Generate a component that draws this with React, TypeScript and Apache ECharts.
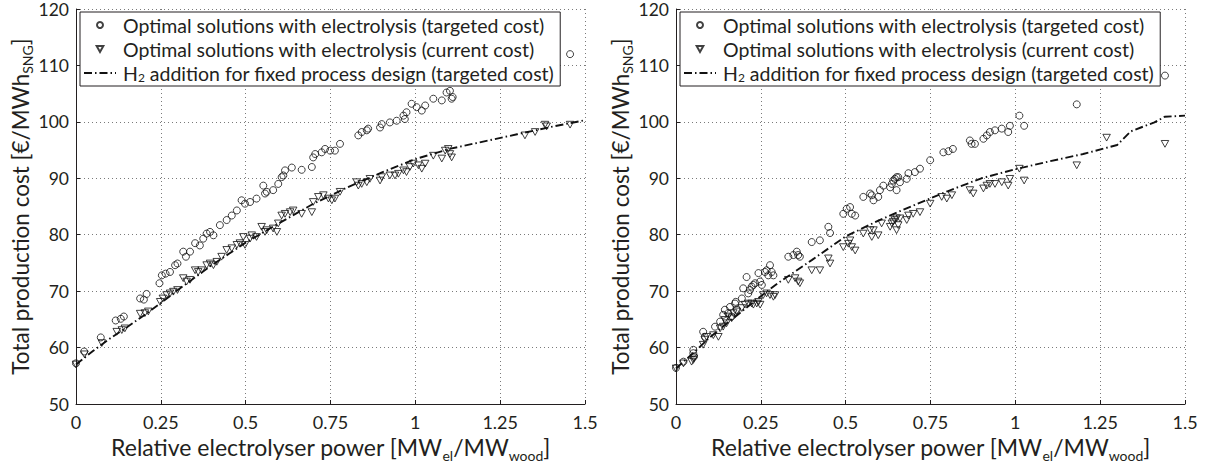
import React, { useEffect, useRef } from 'react';
import * as echarts from 'echarts';

const FONT = 'Lato';
const INK = '#231f20';

const xMin = 0;
const xMax = 1.5;
const xStep = 0.25;
const yMin = 50;
const yMax = 120;
const yStep = 10;

const seriesNames = [
  'Optimal solutions with electrolysis (targeted cost)',
  'Optimal solutions with electrolysis (current cost)',
  'H2 addition for fixed process design (targeted cost)',
];

// Left panel
const leftTargeted: [number, number][] = [
  [0, 57.2], [0.024, 59.3], [0.073, 61.8], [0.117, 64.8], [0.132, 65.1], [0.141, 65.5],
  [0.189, 68.7], [0.2, 68.5], [0.208, 69.5], [0.246, 71.4], [0.253, 72.8], [0.264, 73.1],
  [0.277, 73.4], [0.292, 74.6], [0.299, 74.9], [0.316, 77], [0.324, 76.1], [0.336, 77],
  [0.351, 78.5], [0.365, 78.1], [0.375, 79.3], [0.385, 80.2], [0.395, 80.5], [0.405, 79.9],
  [0.424, 81.7], [0.444, 82.6], [0.459, 83.4], [0.474, 84.3], [0.488, 86.1], [0.498, 85.5],
  [0.513, 85.8], [0.532, 86.4], [0.552, 88.7], [0.557, 87.3], [0.562, 87.6], [0.581, 87.9],
  [0.596, 89], [0.606, 90.2], [0.611, 90.5], [0.616, 91.4], [0.636, 91.9], [0.665, 91.5],
  [0.695, 92.0], [0.699, 93.7], [0.705, 94.3], [0.724, 94.6], [0.734, 95.2], [0.749, 94.9],
  [0.763, 94.9], [0.778, 96.1], [0.832, 97.6], [0.842, 98.2], [0.857, 98.5], [0.861, 98.8],
  [0.896, 99.0], [0.901, 99.6], [0.925, 99.9], [0.945, 100.2], [0.965, 101.1], [0.974, 101.7],
  [0.969, 100.5], [0.989, 103.2], [1.004, 102.6], [1.019, 102.0], [1.029, 102.9], [1.053, 104.1],
  [1.078, 103.8], [1.092, 105.2], [1.102, 105.5], [1.107, 104.1], [1.11, 104.4], [1.456, 112.0],
];

const leftCurrent: [number, number][] = [
  [0, 57], [0.025, 58.8], [0.076, 60.8], [0.12, 62.8], [0.135, 63.1], [0.144, 63.4],
  [0.189, 66.0], [0.203, 66.1], [0.213, 66.4], [0.248, 68.1], [0.256, 68.7], [0.267, 69.3],
  [0.277, 69.6], [0.287, 69.9], [0.299, 70.2], [0.316, 72.3], [0.326, 71.7], [0.336, 72.0],
  [0.351, 73.7], [0.36, 73.4], [0.37, 73.7], [0.385, 74.6], [0.395, 74.9], [0.405, 74.6],
  [0.415, 75.2], [0.429, 76.1], [0.444, 77.3], [0.459, 77.6], [0.474, 78.2], [0.483, 78.5],
  [0.493, 79.6], [0.498, 78.2], [0.513, 79.3], [0.518, 79.9], [0.532, 79.6], [0.547, 81.4],
  [0.557, 80.5], [0.562, 80.8], [0.581, 81.1], [0.592, 80.5], [0.596, 82.0], [0.606, 83.4],
  [0.616, 83.7], [0.631, 84.0], [0.64, 84.3], [0.665, 83.7], [0.695, 84.0], [0.699, 85.8],
  [0.714, 86.7], [0.729, 87.0], [0.744, 86.4], [0.754, 86.1], [0.763, 86.4], [0.778, 87.6],
  [0.827, 89.3], [0.832, 88.7], [0.842, 89.0], [0.857, 89.3], [0.866, 89.9], [0.896, 89.6],
  [0.901, 90.2], [0.925, 90.5], [0.94, 90.5], [0.95, 90.8], [0.965, 91.4], [0.974, 91.1],
  [0.984, 92.0], [0.994, 92.6], [1.009, 92.3], [1.019, 91.7], [1.029, 92.6], [1.053, 94.0],
  [1.078, 93.5], [1.088, 94.9], [1.097, 95.2], [1.102, 94.3], [1.107, 93.7], [1.323, 97.6],
  [1.353, 98.2], [1.382, 99.5], [1.387, 99.2], [1.456, 99.5],
];

const leftFixed: [number, number][] = [
  [0, 57], [0.05, 59.4], [0.1, 61.6], [0.15, 63.6], [0.2, 65.7], [0.25, 67.9], [0.3, 70.2],
  [0.35, 72.4], [0.4, 74.6], [0.5, 78.6], [0.6, 82.1], [0.7, 85.5], [0.8, 88.4], [0.9, 91.0],
  [1.0, 93.4], [1.1, 95.2], [1.2, 96.5], [1.3, 97.8], [1.4, 99.1], [1.5, 100.3],
];

// Right panel
const rightTargeted: [number, number][] = [
  [0, 56.4], [0.022, 57.5], [0.051, 59.6], [0.051, 59.0], [0.053, 58.4], [0.08, 62.8],
  [0.085, 61.9], [0.115, 63.7], [0.13, 64.6], [0.139, 65.8], [0.144, 66.7], [0.154, 66.1],
  [0.159, 67.2], [0.164, 65.5], [0.174, 67.8], [0.176, 68.1], [0.179, 66.7], [0.194, 68.7],
  [0.198, 70.5], [0.208, 72.5], [0.213, 69.6], [0.218, 70.2], [0.223, 70.8], [0.228, 71.1],
  [0.233, 71.4], [0.243, 73.2], [0.248, 71.7], [0.253, 71.1], [0.262, 73.4], [0.267, 73.7],
  [0.272, 72.8], [0.277, 74.6], [0.282, 73.4], [0.287, 72.8], [0.331, 76.1], [0.346, 76.4],
  [0.356, 77.0], [0.36, 76.4], [0.365, 76.1], [0.4, 78.7], [0.424, 79.0], [0.449, 81.4],
  [0.454, 80.3], [0.493, 83.7], [0.503, 84.6], [0.513, 84.9], [0.518, 83.7], [0.528, 83.4],
  [0.552, 86.7], [0.572, 87.3], [0.577, 87.0], [0.582, 86.1], [0.596, 86.7], [0.601, 87.9],
  [0.611, 88.7], [0.631, 88.4], [0.636, 89.0], [0.64, 89.6], [0.645, 89.9], [0.65, 90.2],
  [0.655, 90.2], [0.65, 87.9], [0.66, 89.3], [0.68, 89.9], [0.685, 90.9], [0.704, 91.1],
  [0.719, 91.7], [0.749, 93.2], [0.788, 94.6], [0.803, 94.8], [0.816, 95.2], [0.866, 96.7],
  [0.871, 96.1], [0.881, 96.1], [0.906, 97.0], [0.916, 97.6], [0.925, 98.2], [0.94, 98.5],
  [0.96, 98.8], [0.979, 98.2], [0.984, 99.3], [1.012, 101.1], [1.026, 99.3], [1.181, 103.1],
  [1.441, 108.2],
];

const rightCurrent: [number, number][] = [
  [0, 56.3], [0.022, 57.2], [0.046, 57.5], [0.051, 57.8], [0.053, 58.1], [0.08, 60.5],
  [0.085, 61.4], [0.09, 61.9], [0.11, 62.2], [0.125, 61.9], [0.13, 63.4], [0.139, 63.7],
  [0.144, 64.9], [0.149, 64.3], [0.154, 65.5], [0.164, 65.2], [0.169, 66.1], [0.179, 66.4],
  [0.194, 67.0], [0.203, 67.6], [0.213, 67.8], [0.223, 67.8], [0.228, 67.6], [0.238, 67.8],
  [0.243, 68.1], [0.248, 67.6], [0.257, 69.3], [0.267, 69.6], [0.277, 69.3], [0.287, 69.0],
  [0.292, 69.3], [0.331, 72.0], [0.351, 72.3], [0.36, 71.7], [0.365, 71.4], [0.4, 73.7],
  [0.424, 73.7], [0.449, 75.8], [0.454, 74.9], [0.493, 77.8], [0.508, 78.4], [0.513, 79.0],
  [0.518, 77.8], [0.528, 77.2], [0.552, 80.2], [0.572, 80.8], [0.577, 79.6], [0.582, 80.8],
  [0.596, 79.9], [0.606, 82.0], [0.631, 81.4], [0.636, 82.0], [0.64, 82.3], [0.645, 82.6],
  [0.65, 82.9], [0.65, 80.8], [0.655, 81.7], [0.66, 82.9], [0.68, 82.6], [0.685, 83.4],
  [0.699, 83.7], [0.719, 84.0], [0.749, 85.5], [0.783, 86.7], [0.798, 86.4], [0.813, 87.0],
  [0.866, 87.9], [0.876, 87.3], [0.906, 88.2], [0.916, 88.7], [0.925, 89.0], [0.94, 89.0],
  [0.96, 89.3], [0.979, 88.7], [0.984, 89.9], [1.012, 91.7], [1.026, 89.6], [1.181, 92.3],
  [1.269, 97.2], [1.441, 96.1],
];

const rightFixed: [number, number][] = [
  [0, 56.3], [0.05, 59.0], [0.1, 61.8], [0.15, 64.3], [0.2, 66.7], [0.25, 69.1], [0.3, 71.4],
  [0.4, 75.5], [0.5, 79.7], [0.6, 82.6], [0.7, 85.2], [0.8, 87.7], [0.9, 90.0], [1.0, 91.6],
  [1.1, 93.0], [1.2, 94.3], [1.3, 95.9], [1.34, 98.3], [1.37, 99.0], [1.41, 99.9], [1.44, 100.9],
  [1.5, 101.1],
];

const TRIANGLE_DOWN = 'path://M0,0L10,0L5,9Z';
const dashDot = [8, 3, 1.5, 3];

const xNameRich = {
  a: { fontFamily: FONT, fontSize: 23, color: INK, lineHeight: 30 },
  s: { fontFamily: FONT, fontSize: 14, color: INK, lineHeight: 14, verticalAlign: 'bottom' },
};
const yNameRich = {
  a: { fontFamily: FONT, fontSize: 22.5, color: INK, lineHeight: 28 },
  s: { fontFamily: FONT, fontSize: 14, color: INK, lineHeight: 13, verticalAlign: 'bottom' },
};

function buildOption() {
  const panels = [
    { targeted: leftTargeted, current: leftCurrent, fixed: leftFixed },
    { targeted: rightTargeted, current: rightCurrent, fixed: rightFixed },
  ];
  const series: any[] = [];
  panels.forEach((p, i) => {
    series.push({
      type: 'scatter', name: seriesNames[0], xAxisIndex: i, yAxisIndex: i, data: p.targeted,
      symbol: 'circle', symbolSize: 7, silent: true, z: 3,
      itemStyle: { color: 'rgba(0,0,0,0)', borderColor: '#111', borderWidth: 1 },
    });
    series.push({
      type: 'scatter', name: seriesNames[1], xAxisIndex: i, yAxisIndex: i, data: p.current,
      symbol: TRIANGLE_DOWN, symbolKeepAspect: true, symbolSize: 7.5, silent: true, z: 3,
      itemStyle: { color: 'rgba(0,0,0,0)', borderColor: '#111', borderWidth: 1 },
    });
    series.push({
      type: 'line', name: seriesNames[2], xAxisIndex: i, yAxisIndex: i, data: p.fixed,
      symbol: 'none', showSymbol: false, silent: true, z: 2, color: '#111',
      itemStyle: { color: '#111' },
      lineStyle: { color: '#111', width: 1.9, type: dashDot },
    });
  });

  const grids = [
    { left: 76, right: 625, top: 8, bottom: 64 },
    { left: 676, right: 25, top: 8, bottom: 64 },
  ];

  const xAxis = [0, 1].map((i) => ({
    type: 'value', gridIndex: i, min: xMin, max: xMax, interval: xStep,
    axisLine: { show: true, onZero: false, lineStyle: { color: INK, width: 1 } },
    axisTick: { show: true, inside: true, length: 4, lineStyle: { color: INK } },
    axisLabel: { color: INK, fontSize: 18, fontFamily: FONT, margin: 9 },
    splitLine: { show: true, lineStyle: { type: [1, 3], color: '#7a7a7a', width: 1 } },
    name: '{a|Relative electrolyser power [MW}{s|el}{a|/MW}{s|wood}{a|]}',
    nameLocation: 'middle', nameGap: 28,
    nameTextStyle: { rich: xNameRich },
  }));

  const yAxis = [0, 1].map((i) => ({
    type: 'value', gridIndex: i, min: yMin, max: yMax, interval: yStep,
    axisLine: { show: true, onZero: false, lineStyle: { color: INK, width: 1 } },
    axisTick: { show: true, inside: true, length: 4, lineStyle: { color: INK } },
    axisLabel: {
      color: INK, fontSize: 17.5, fontFamily: FONT, margin: 7, lineHeight: 14,
      verticalAlign: 'middle', padding: [4, 0, 0, 0],
    },
    splitLine: { show: true, lineStyle: { type: [1, 3], color: '#7a7a7a', width: 1 } },
    name: '{a|Total production cost [€/MWh}{s|SNG}{a|]}',
    nameLocation: 'middle', nameGap: 41,
    nameTextStyle: { rich: yNameRich },
  }));

  const legend = [0, 1].map((i) => ({
    orient: 'vertical', left: i === 0 ? 80 : 680, top: 12,
    padding: [3, 6, 3, 3], itemGap: 4, itemWidth: 32, itemHeight: 6,
    backgroundColor: '#fff', borderColor: INK, borderWidth: 1, borderRadius: 0,
    selectedMode: false, z: 10,
    textStyle: {
      color: INK, fontSize: 19.5, fontFamily: FONT, lineHeight: 20, padding: [0, 0, 0, 2],
      rich: {
        a: { color: INK, fontSize: 19.5, fontFamily: FONT, lineHeight: 20 },
        s: { color: INK, fontSize: 12, fontFamily: FONT, lineHeight: 10, verticalAlign: 'bottom' },
      },
    },
    formatter: (name: string) =>
      name.startsWith('H2') ? '{a|H}{s|2}{a|' + name.slice(2) + '}' : '{a|' + name + '}',
    data: [
      { name: seriesNames[0], icon: 'circle' },
      { name: seriesNames[1], icon: TRIANGLE_DOWN },
      { name: seriesNames[2], itemStyle: { color: 'rgba(0,0,0,0)', borderWidth: 0, opacity: 0 } },
    ],
  }));

  return {
    animation: false,
    backgroundColor: '#ffffff',
    textStyle: { fontFamily: FONT },
    grid: grids,
    xAxis,
    yAxis,
    legend,
    series,
  };
}

export default function App() {
  const ref = useRef<HTMLDivElement>(null);
  useEffect(() => {
    if (!ref.current) return;
    const chart = echarts.init(ref.current, undefined, { renderer: 'svg' });
    chart.setOption(buildOption() as any);
    return () => chart.dispose();
  }, []);
  return (
    <div
      ref={ref}
      style={{ position: 'fixed', left: 0, top: 0, width: 1210, height: 468, background: '#fff' }}
    />
  );
}
